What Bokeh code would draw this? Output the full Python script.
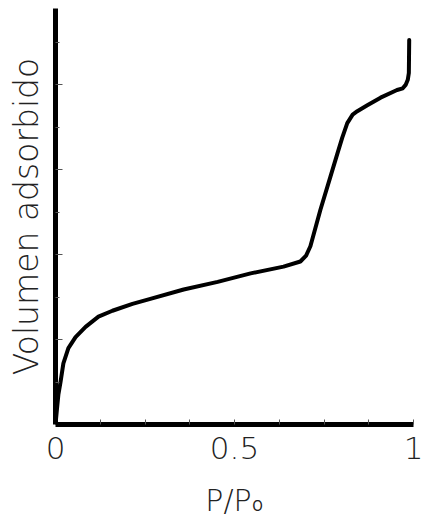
from bokeh.plotting import figure
from bokeh.models import Range1d, FixedTicker
from bokeh.embed import file_html
from bokeh.resources import INLINE

p_rel = [0.0, 0.004, 0.008, 0.014, 0.022, 0.036, 0.056, 0.084, 0.12, 0.159, 0.215,
         0.265, 0.358, 0.453, 0.545, 0.637, 0.684, 0.700, 0.712, 0.740, 0.768, 0.788,
         0.801, 0.815, 0.830, 0.843, 0.871, 0.908, 0.954, 0.970, 0.978, 0.984, 0.987, 0.988]
volume = [0.0, 0.18, 0.35, 0.50, 0.72, 0.90, 1.03, 1.15, 1.27, 1.34, 1.42,
          1.48, 1.59, 1.68, 1.78, 1.86, 1.92, 1.99, 2.10, 2.53, 2.92, 3.20,
          3.38, 3.55, 3.65, 3.69, 3.76, 3.85, 3.94, 3.96, 4.00, 4.06, 4.14, 4.53]

x_major = [0, 0.5, 1]
x_minor = [0.125, 0.25, 0.375, 0.625, 0.75, 0.875]
x_labels = {0: "0", 0.5: "0.5", 1: "1"}
y_major = [1, 2, 3, 4]
y_minor = [0.5, 1.5, 2.5, 3.5, 4.5]

p = figure(width=424, height=520, output_backend="svg", toolbar_location=None,
           x_range=Range1d(0, 1), y_range=Range1d(0, 4.9),
           min_border_left=55, min_border_right=11, min_border_top=8, min_border_bottom=95)
p.outline_line_color = None
p.grid.visible = False
p.background_fill_color = "white"

p.line(p_rel, volume, line_color="black", line_width=4, line_join="round", line_cap="round")

font = "DejaVu Sans ExtraLight, DejaVu Sans Light, DejaVu Sans"
text_color = "#222222"
xa = p.xaxis[0]
xa.ticker = FixedTicker(ticks=x_major, minor_ticks=x_minor)
xa.major_label_overrides = x_labels
xa.axis_line_width = 5
xa.axis_line_color = "black"
xa.major_tick_in = 5
xa.major_tick_out = 0
xa.minor_tick_in = 5
xa.minor_tick_out = 0
xa.major_tick_line_color = "#555555"
xa.minor_tick_line_color = "#555555"
xa.major_label_text_font = font
xa.major_label_text_font_size = "31px"
xa.major_label_text_color = text_color
xa.major_label_standoff = 12
xa.axis_label = "P/P\u2080"
xa.axis_label_text_font = font
xa.axis_label_text_font_size = "30px"
xa.axis_label_text_font_style = "normal"
xa.axis_label_text_color = text_color
xa.axis_label_standoff = 21

ya = p.yaxis[0]
ya.ticker = FixedTicker(ticks=y_major, minor_ticks=y_minor)
ya.major_label_overrides = {t: "" for t in y_major}
ya.major_label_text_font_size = "0px"
ya.axis_line_width = 5
ya.axis_line_color = "black"
ya.major_tick_in = 7
ya.major_tick_out = 0
ya.minor_tick_in = 4
ya.minor_tick_out = 0
ya.major_tick_line_color = "#555555"
ya.minor_tick_line_color = "#555555"
ya.axis_label = "Volumen adsorbido"
ya.axis_label_text_font = font
ya.axis_label_text_font_size = "33px"
ya.axis_label_text_font_style = "normal"
ya.axis_label_text_color = text_color
ya.axis_label_standoff = 10

open("out.html", "w").write(file_html(p, INLINE))
